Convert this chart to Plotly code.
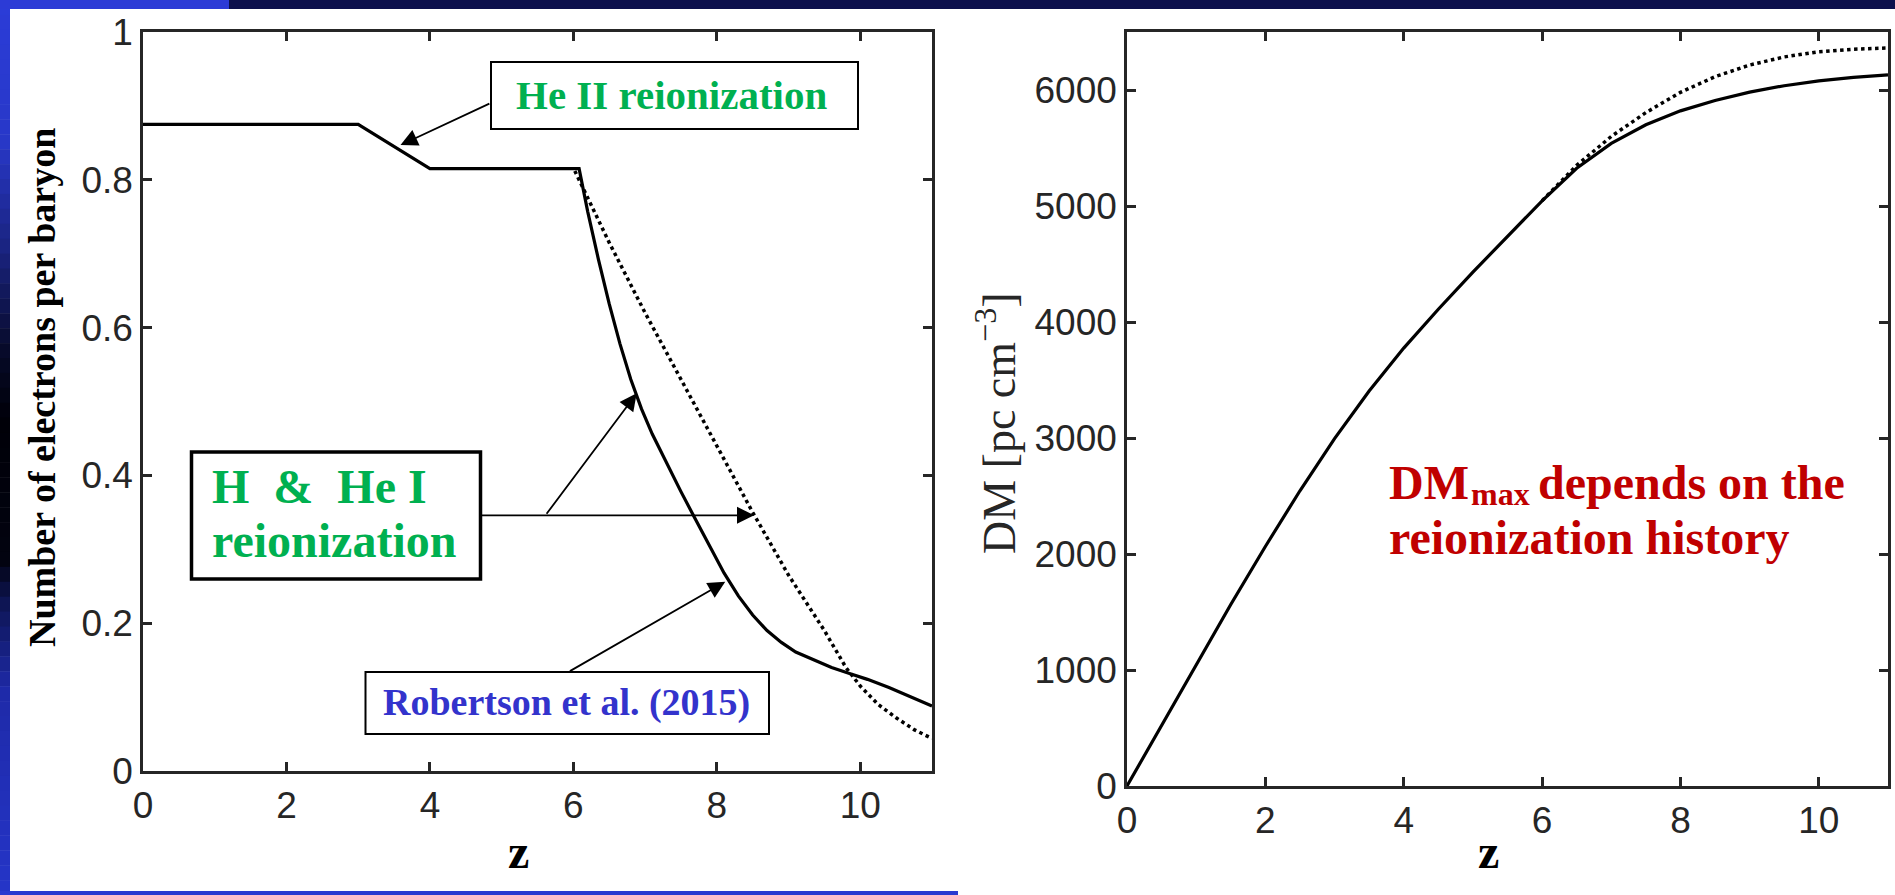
import plotly.graph_objects as go

W, H = 1895, 895

# ---- electron fraction (electrons per baryon) vs redshift ----
z_ne_model = [0.0, 3.0, 4.0, 6.08, 6.2, 6.35, 6.5, 6.65, 6.8, 6.95, 7.1, 7.3, 7.5,
              7.7, 7.9, 8.1, 8.3, 8.5, 8.7, 8.9, 9.1, 9.35, 9.6, 9.85, 10.1, 10.4,
              10.7, 11.0]
ne_model = [0.875, 0.875, 0.815, 0.815, 0.757, 0.692, 0.632, 0.578, 0.530, 0.490,
            0.456, 0.416, 0.378, 0.341, 0.304, 0.268, 0.237, 0.211, 0.190, 0.174,
            0.161, 0.150, 0.140, 0.132, 0.124, 0.113, 0.101, 0.088]

z_ne_rob = [6.02, 6.5, 7.0, 7.5, 8.0, 8.5, 9.0, 9.5, 9.8, 10.0, 10.25, 10.5, 10.75, 11.0]
ne_rob = [0.812, 0.715, 0.62, 0.53, 0.44, 0.35, 0.265, 0.19, 0.14, 0.115, 0.09,
          0.072, 0.056, 0.044]

# ---- dispersion measure vs redshift ----
z_dm_model = [0, 0.5, 1, 1.5, 2, 2.5, 3, 3.5, 4, 4.5, 5, 5.5, 6, 6.5, 7, 7.5, 8,
              8.5, 9, 9.5, 10, 10.5, 11]
dm_model = [0, 525, 1045, 1565, 2065, 2545, 2995, 3405, 3775, 4110, 4430, 4740,
            5045, 5325, 5540, 5700, 5820, 5910, 5982, 6037, 6079, 6109, 6131]

z_dm_rob = [6.0, 6.5, 7.0, 7.5, 8.0, 8.5, 9.0, 9.5, 10.0, 10.5, 11.0]
dm_rob = [5045, 5350, 5600, 5805, 5980, 6115, 6215, 6285, 6330, 6352, 6362]

z_ticks = [0, 2, 4, 6, 8, 10]
ne_ticks = [0, 0.2, 0.4, 0.6, 0.8, 1]
ne_ticktext = ["0", "0.2", "0.4", "0.6", "0.8", "1"]
dm_ticks = [0, 1000, 2000, 3000, 4000, 5000, 6000]


def px(x):
    return x / W


def py(y):
    return 1 - y / H


AX = "#262626"
SANS = "Liberation Sans, Arial, Helvetica, sans-serif"
SERIF = "Liberation Serif, Times New Roman, serif"
GREEN = "#00b050"
RED = "#c00000"

fig = go.Figure()

fig.add_trace(go.Scatter(x=z_ne_model, y=ne_model, mode="lines",
                         line=dict(color="black", width=3.2), xaxis="x", yaxis="y",
                         hoverinfo="skip"))
fig.add_trace(go.Scatter(x=z_ne_rob, y=ne_rob, mode="lines",
                         line=dict(color="black", width=3.5, dash="dot"),
                         xaxis="x", yaxis="y", hoverinfo="skip"))
fig.add_trace(go.Scatter(x=z_dm_model, y=dm_model, mode="lines",
                         line=dict(color="black", width=3.2), xaxis="x2", yaxis="y2",
                         hoverinfo="skip"))
fig.add_trace(go.Scatter(x=z_dm_rob, y=dm_rob, mode="lines",
                         line=dict(color="black", width=3.5, dash="dot"),
                         xaxis="x2", yaxis="y2", hoverinfo="skip"))

axis_common = dict(showline=True, linecolor=AX, linewidth=2.5, mirror="ticks",
                   ticks="inside", ticklen=9, tickwidth=2.5, tickcolor=AX,
                   showgrid=False, zeroline=False, automargin=False,
                   tickfont=dict(family=SANS, size=37, color=AX))

fig.update_layout(
    width=W, height=H, margin=dict(l=0, r=0, t=0, b=0, pad=0), autosize=False,
    paper_bgcolor="white", plot_bgcolor="white", showlegend=False,
    xaxis=dict(domain=[px(143), px(932)], range=[0, 11], anchor="y",
               tickvals=z_ticks, **axis_common),
    yaxis=dict(domain=[py(771), py(32)], range=[0, 1], anchor="x",
               tickvals=ne_ticks, ticktext=ne_ticktext, **axis_common),
    xaxis2=dict(domain=[px(1127), px(1888)], range=[0, 11], anchor="y2",
                tickvals=z_ticks, **axis_common),
    yaxis2=dict(domain=[py(786), py(32)], range=[0, 6500], anchor="x2",
                tickvals=dm_ticks, **axis_common),
)

# ---- slide frame: gradient stripe on the left, bands at top and bottom ----
stops = [(0, (43, 60, 216)), (140, (40, 56, 200)), (250, (26, 35, 127)),
         (350, (7, 10, 42)), (420, (0, 0, 8)), (560, (2, 3, 16)),
         (600, (13, 20, 80)), (690, (30, 42, 168)), (895, (37, 53, 200))]


def stripe_color(y):
    for (y0, c0), (y1, c1) in zip(stops[:-1], stops[1:]):
        if y0 <= y <= y1:
            t = (y - y0) / (y1 - y0)
            c = [round(a + (b - a) * t) for a, b in zip(c0, c1)]
            return "rgb(%d,%d,%d)" % tuple(c)
    return "rgb(%d,%d,%d)" % stops[-1][1]


shapes = []
n_band = 60
for i in range(n_band):
    y0 = H * i / n_band
    y1 = H * (i + 1) / n_band
    shapes.append(dict(type="rect", xref="paper", yref="paper", x0=px(0), x1=px(10),
                       y0=py(y1 + 0.5), y1=py(y0), fillcolor=stripe_color((y0 + y1) / 2),
                       line=dict(width=0), layer="below"))
shapes.append(dict(type="rect", xref="paper", yref="paper", x0=0, x1=1,
                   y0=py(9), y1=1, fillcolor="#0c104c", line=dict(width=0), layer="below"))
shapes.append(dict(type="rect", xref="paper", yref="paper", x0=0, x1=px(229),
                   y0=py(9), y1=1, fillcolor="#2c3bd6", line=dict(width=0), layer="below"))
shapes.append(dict(type="rect", xref="paper", yref="paper", x0=0, x1=px(958),
                   y0=0, y1=py(891), fillcolor="#2a3ad0", line=dict(width=0), layer="below"))

# ---- label boxes ----
def box(x0, y0, x1, y1, lw):
    return dict(type="rect", xref="paper", yref="paper", x0=px(x0), x1=px(x1),
                y0=py(y1), y1=py(y0), fillcolor="white",
                line=dict(color="black", width=lw), layer="above")


shapes.append(box(491, 62, 858, 129, 2))
shapes.append(box(191.5, 452, 480.5, 579, 3.5))
shapes.append(box(365.5, 672, 769, 734, 2))
fig.update_layout(shapes=shapes)


def text(s, x, y, size, color, bold=True, xanchor="center", yanchor="top",
         angle=0, family=SERIF):
    t = "<b>%s</b>" % s if bold else s
    return dict(text=t, x=px(x), y=py(y), xref="paper", yref="paper",
                xanchor=xanchor, yanchor=yanchor, showarrow=False, textangle=angle,
                font=dict(family=family, size=size, color=color),
                borderpad=0, borderwidth=0)


def arrow(x_tip, y_tip, x_tail, y_tail, xr="x", yr="y"):
    return dict(text="", x=x_tip, y=y_tip, ax=x_tail, ay=y_tail, xref=xr, yref=yr,
                axref=xr, ayref=yr, showarrow=True, arrowhead=2, arrowsize=1.9,
                arrowwidth=1.8, arrowcolor="black", standoff=0, startstandoff=0)


annotations = [
    text("He II reionization", 671, 72, 41, GREEN),
    text("H\u00a0 &\u00a0 He I", 212, 460, 48, GREEN, xanchor="left"),
    text("reionization", 212, 514, 48, GREEN, xanchor="left"),
    text("Robertson et al. (2015)", 566, 681, 38, "#3333cc"),
    # "DM_max depends on the / reionization history"
    text("DM", 1389, 456, 48, RED, xanchor="left"),
    text("max", 1471, 476, 32, RED, xanchor="left"),
    text("depends on the", 1538, 456, 48, RED, xanchor="left"),
    text("reionization history", 1389, 511, 48, RED, xanchor="left"),
    text("Number of electrons per baryon", 42, 388, 38, "black",
         xanchor="center", yanchor="middle", angle=-90),
    text("DM [pc cm<sup>\u22123</sup>]", 996, 423, 46, AX, bold=False,
         xanchor="center", yanchor="middle", angle=-90),
    text("z", 518, 825, 48, "black"),
    text("z", 1488, 825, 48, "black"),
    # He II pointer
    arrow(3.59, 0.847, 4.85, 0.904),
    # H & He I pointers
    arrow(8.52, 0.346, 4.704, 0.346),
    arrow(6.883, 0.511, 5.611, 0.346),
    # Robertson pointer
    arrow(8.118, 0.256, 5.931, 0.134),
]
fig.update_layout(annotations=annotations)

fig.write_html("out.html")
